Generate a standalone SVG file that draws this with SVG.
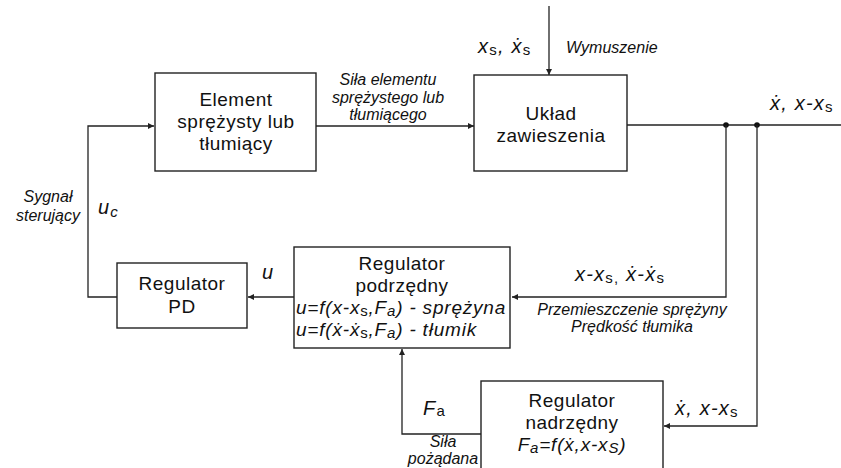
<svg xmlns="http://www.w3.org/2000/svg" width="841" height="468" viewBox="0 0 841 468">
<defs>
<marker id="ah" viewBox="0 0 10 10" refX="10" refY="5" markerWidth="8" markerHeight="6" markerUnits="userSpaceOnUse" orient="auto">
<path d="M0,0 L10,5 L0,10 z" fill="#222"/>
</marker>
</defs>
<style>
.box{fill:#fff;stroke:#222;stroke-width:1.4}
.ln{fill:none;stroke:#222;stroke-width:1.3}
.t{font-family:"Liberation Sans","DejaVu Sans",Arial,sans-serif;fill:#111}
.bt{font-size:19px;text-anchor:middle;letter-spacing:0.5px}
.fm{font-size:19px;font-style:italic;letter-spacing:0.8px}
.lb{font-size:16px;font-style:italic;text-anchor:middle}
.m{font-size:20px;font-style:italic;letter-spacing:1.2px}
.sub{font-style:normal;font-size:15px}
</style>
<rect width="841" height="468" fill="#fff"/>
<g id="connectors">
<line class="ln" x1="549" y1="6" x2="549" y2="75" marker-end="url(#ah)"/>
<line class="ln" x1="316" y1="126" x2="474" y2="126" marker-end="url(#ah)"/>
<line class="ln" x1="627" y1="125" x2="841" y2="125"/>
<circle cx="726" cy="125" r="2.8" fill="#111"/>
<circle cx="757" cy="125" r="2.8" fill="#111"/>
<polyline class="ln" points="726,125 726,297 512,297" marker-end="url(#ah)"/>
<polyline class="ln" points="757,125 757,426 664,426" marker-end="url(#ah)"/>
<polyline class="ln" points="481,434 402,434 402,349" marker-end="url(#ah)"/>
<line class="ln" x1="294" y1="297" x2="248" y2="297" marker-end="url(#ah)"/>
<polyline class="ln" points="117,297 88,297 88,126 154,126" marker-end="url(#ah)"/>
</g>
<g id="element">
<rect class="box" x="155" y="73" width="161" height="98"/>
<text class="t bt" x="236" y="106">Element</text>
<text class="t bt" x="236" y="128">sprężysty lub</text>
<text class="t bt" x="236" y="150">tłumiący</text>
</g>
<g id="uklad">
<rect class="box" x="474" y="75" width="153" height="96"/>
<text class="t bt" x="551" y="120">Układ</text>
<text class="t bt" x="551" y="142">zawieszenia</text>
</g>
<g id="pd">
<rect class="box" x="117" y="263" width="130" height="65"/>
<text class="t bt" x="182" y="290">Regulator</text>
<text class="t bt" x="182" y="313">PD</text>
</g>
<g id="podrzedny">
<rect class="box" x="294" y="247" width="216" height="101"/>
<text class="t bt" x="402" y="270">Regulator</text>
<text class="t bt" x="402" y="292">podrzędny</text>
<text class="t fm" x="296" y="314">u=f(x-x<tspan class="sub" dy="2">s</tspan><tspan dy="-2">,F</tspan><tspan font-size="15px" dy="2">a</tspan><tspan dy="-2">) - sprężyna</tspan></text>
<text class="t fm" x="296" y="336">u=f(ẋ-ẋ<tspan class="sub" dy="2">s</tspan><tspan dy="-2">,F</tspan><tspan font-size="15px" dy="2">a</tspan><tspan dy="-2">) - tłumik</tspan></text>
</g>
<g id="nadrzedny">
<rect class="box" x="481" y="381" width="182" height="100"/>
<text class="t bt" x="572" y="407">Regulator</text>
<text class="t bt" x="572" y="429">nadrzędny</text>
<text class="t fm" x="572" y="451" text-anchor="middle">F<tspan font-size="15px" dy="2">a</tspan><tspan dy="-2">=f(ẋ,x-x</tspan><tspan font-size="15px" dy="2">S</tspan><tspan dy="-2">)</tspan></text>
</g>
<g id="labels">
<text class="t m" x="478" y="53">x<tspan class="sub" dy="2">s</tspan><tspan dy="-2">,  ẋ</tspan><tspan class="sub" dy="2">s</tspan></text>
<text class="t" x="566" y="53" font-size="16px" font-style="italic">Wymuszenie</text>
<text class="t lb" x="388" y="85">Siła elementu</text>
<text class="t lb" x="388" y="103">sprężystego lub</text>
<text class="t lb" x="388" y="120">tłumiącego</text>
<text class="t m" x="770" y="110">ẋ,  x-x<tspan class="sub" dy="2">s</tspan></text>
<text class="t lb" x="48" y="202">Sygnał</text>
<text class="t lb" x="48" y="221">sterujący</text>
<text class="t m" x="98" y="214" font-size="21px" letter-spacing="0">u<tspan font-size="15px" dy="3">c</tspan></text>
<text class="t m" x="262" y="279" font-size="20px">u</text>
<text class="t m" x="575" y="281">x-x<tspan class="sub" dy="2">s,</tspan><tspan dy="-2"> ẋ-ẋ</tspan><tspan class="sub" dy="2">s</tspan></text>
<text class="t lb" x="632" y="315">Przemieszczenie sprężyny</text>
<text class="t lb" x="632" y="332">Prędkość tłumika</text>
<text class="t m" x="423" y="415" font-size="20px">F<tspan class="sub" dy="1">a</tspan></text>
<text class="t lb" x="443" y="447">Siła</text>
<text class="t lb" x="443" y="464">pożądana</text>
<text class="t m" x="675" y="415">ẋ,  x-x<tspan class="sub" dy="2">s</tspan></text>
</g>
</svg>
